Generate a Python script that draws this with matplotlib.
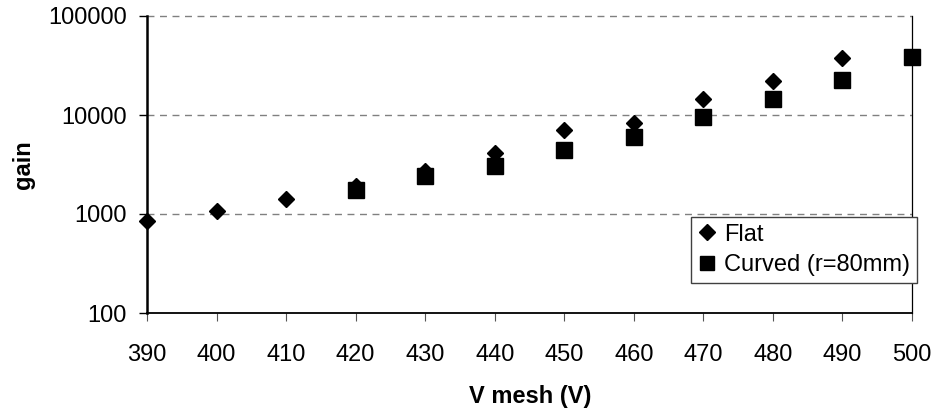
import matplotlib.pyplot as plt
from matplotlib.ticker import FixedLocator, NullLocator, FixedFormatter

plt.rcParams['font.family'] = ['Liberation Sans', 'DejaVu Sans']

# gain vs mesh voltage
v_flat = [390, 400, 410, 420, 430, 440, 450, 460, 470, 480, 490]
gain_flat = [840, 1075, 1430, 1920, 2700, 4100, 7000, 8350, 14500, 22000, 38000]

v_curved = [420, 430, 440, 450, 460, 470, 480, 490, 500]
gain_curved = [1750, 2420, 3050, 4430, 6050, 9600, 14500, 22600, 38800]

x_ticks = [390, 400, 410, 420, 430, 440, 450, 460, 470, 480, 490, 500]
y_ticks = [100, 1000, 10000, 100000]
y_labels = ['100', '1000', '10000', '100000']

W, H = 935, 412
fig = plt.figure(figsize=(W / 100, H / 100), dpi=100)
ax = fig.add_axes([147 / W, 1 - 313 / H, (912 - 147) / W, (313 - 16) / H])

ax.plot(v_flat, gain_flat, linestyle='none', marker='D', ms=8.6,
        color='black', clip_on=False, label='Flat', zorder=3)
ax.plot(v_curved, gain_curved, linestyle='none', marker='s', ms=11.0,
        color='black', clip_on=False, label='Curved (r=80mm)', zorder=3)

ax.set_yscale('log')
ax.set_xlim(390, 500)
ax.set_ylim(100, 100000)
ax.xaxis.set_major_locator(FixedLocator(x_ticks))
ax.yaxis.set_major_locator(FixedLocator(y_ticks))
ax.yaxis.set_major_formatter(FixedFormatter(y_labels))
ax.yaxis.set_minor_locator(NullLocator())

# dashed gray gridlines like excel
for y in [1000, 10000, 100000]:
    ax.axhline(y, color='#808080', linestyle=(0, (5, 4)), linewidth=1.0,
               clip_on=False, zorder=1)

ax.spines['top'].set_visible(False)
ax.spines['left'].set_linewidth(1.8)
ax.spines['bottom'].set_linewidth(1.3)
ax.spines['right'].set_linewidth(0.9)

ax.tick_params(axis='y', direction='out', length=6, width=1.0, pad=8.5,
               labelsize=17)
ax.tick_params(axis='x', direction='out', length=6, width=0.8, pad=16.5,
               labelsize=17, color='#555555', labelcolor='black')

fig.text(23 / W, 1 - 165 / H, 'gain', rotation=90, ha='center', va='center',
         fontsize=17, fontweight='bold')
fig.text(530 / W, 1 - 396 / H, 'V mesh (V)', ha='center', va='center',
         fontsize=17, fontweight='bold')

leg = ax.legend(loc='lower right', bbox_to_anchor=(917 / W, 1 - 283 / H),
                bbox_transform=fig.transFigure, borderaxespad=0,
                fontsize=17, fancybox=False, framealpha=1, edgecolor='#404040',
                handlelength=0.8, handletextpad=0.3, borderpad=0.3,
                labelspacing=0.35, markerscale=0.9)
leg.get_frame().set_linewidth(1.0)
leg.set_zorder(5)

fig.savefig('out.png', dpi=100)
